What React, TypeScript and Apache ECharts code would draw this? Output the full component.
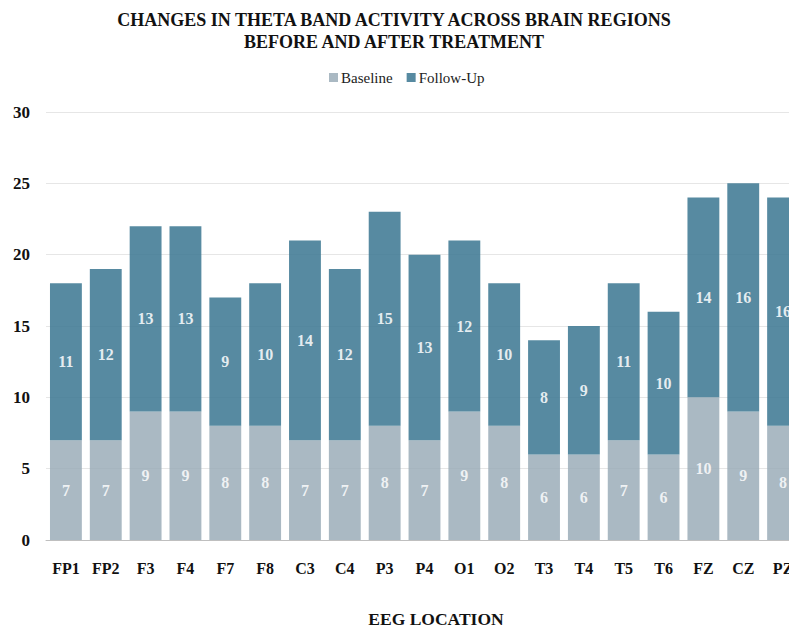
import React, { useEffect, useRef } from "react";
import * as echarts from "echarts";

const categories = ["FP1","FP2","F3","F4","F7","F8","C3","C4","P3","P4","O1","O2","T3","T4","T5","T6","FZ","CZ","PZ"];
const baseline = [7,7,9,9,8,8,7,7,8,7,9,8,6,6,7,6,10,9,8];
const followUp = [11,12,13,13,9,10,14,12,15,13,12,10,8,9,11,10,14,16,16];
const yTicks = [0, 5, 10, 15, 20, 25, 30];

const FONT = "'Liberation Serif', 'Times New Roman', serif";

export default function App() {
  const ref = useRef<HTMLDivElement>(null);
  useEffect(() => {
    if (!ref.current) return;
    const chart = echarts.init(ref.current, null, { renderer: "svg" });
    chart.setOption({
      animation: false,
      backgroundColor: "#ffffff",
      legend: {
        top: 65,
        left: 324,
        itemWidth: 9,
        itemHeight: 9,
        itemGap: 14,
        icon: "rect",
        textStyle: { fontFamily: FONT, fontSize: 15, color: "#222222", padding: [0, 0, 0, -2] },
        data: ["Baseline", "Follow-Up"],
      },
      grid: { left: 46, right: 0, top: 112, bottom: 86, containLabel: false },
      xAxis: {
        type: "category",
        data: categories,
        axisLine: { lineStyle: { color: "#bfbfbf", width: 1 } },
        axisTick: { show: false },
        axisLabel: {
          fontFamily: FONT,
          fontWeight: "bold",
          fontSize: 16,
          color: "#111111",
          margin: 20,
          interval: 0,
        },
      },
      yAxis: {
        type: "value",
        min: yTicks[0],
        max: yTicks[yTicks.length - 1],
        interval: 5,
        axisLine: { show: false },
        axisTick: { show: false },
        splitLine: { lineStyle: { color: "#e6e6e6", width: 1 } },
        axisLabel: {
          fontFamily: FONT,
          fontWeight: "bold",
          fontSize: 17,
          color: "#111111",
          margin: 16,
        },
      },
      graphic: [
        {
          type: "text",
          x: 394,
          y: 9,
          style: {
            text: "CHANGES IN THETA BAND ACTIVITY ACROSS BRAIN REGIONS\nBEFORE AND AFTER TREATMENT",
            fontFamily: FONT,
            fontWeight: "bold",
            fontSize: 18,
            lineHeight: 22,
            fill: "#111111",
            align: "center",
            verticalAlign: "top",
          },
        },
        {
          type: "text",
          x: 436,
          y: 610,
          style: {
            text: "EEG LOCATION",
            fontFamily: FONT,
            fontWeight: "bold",
            fontSize: 17.5,
            fill: "#111111",
            align: "center",
            verticalAlign: "top",
          },
        },
      ],
      series: [
        {
          name: "Baseline",
          type: "bar",
          stack: "total",
          data: baseline,
          barCategoryGap: "20%",
          itemStyle: { color: "#97a9b6", opacity: 0.82 },
          label: {
            show: true,
            position: "inside",
            fontFamily: FONT,
            fontWeight: "bold",
            fontSize: 16,
            color: "#ffffff",
          },
        },
        {
          name: "Follow-Up",
          type: "bar",
          stack: "total",
          data: followUp,
          barCategoryGap: "20%",
          itemStyle: { color: "#3a7690", opacity: 0.85 },
          label: {
            show: true,
            position: "inside",
            fontFamily: FONT,
            fontWeight: "bold",
            fontSize: 16,
            color: "#ffffff",
          },
        },
      ],
    });
    return () => chart.dispose();
  }, []);
  return (
    <div
      ref={ref}
      style={{ position: "fixed", left: 0, top: 0, width: 803, height: 626 }}
    />
  );
}
